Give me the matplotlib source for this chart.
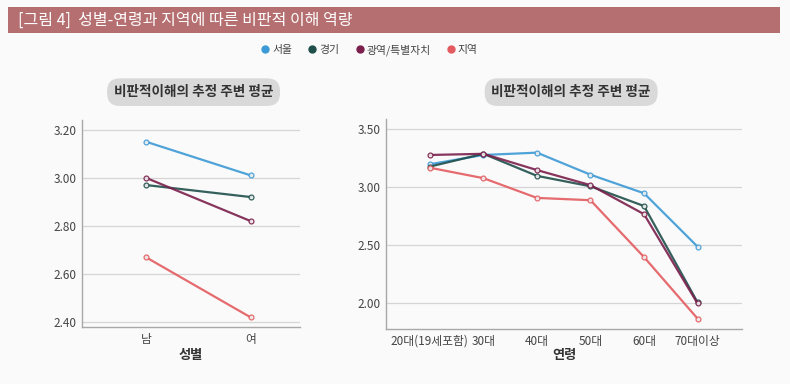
import matplotlib.pyplot as plt
from matplotlib.lines import Line2D
from matplotlib.patches import Rectangle

plt.rcParams['font.family'] = ['Noto Sans CJK KR', 'DejaVu Sans']

# 데이터
regions = ["서울", "경기", "광역/특별자치", "지역"]
colors = ["#3d9ad6", "#1f4f4b", "#7b1f4c", "#e35b60"]

sex_cats = ["남", "여"]
sex_seoul = [3.15, 3.01]
sex_gyeonggi = [2.97, 2.92]
sex_metro = [3.00, 2.82]
sex_local = [2.67, 2.42]

age_cats = ["20대(19세포함)", "30대", "40대", "50대", "60대", "70대이상"]
age_seoul = [3.20, 3.28, 3.30, 3.11, 2.95, 2.49]
age_gyeonggi = [3.18, 3.29, 3.10, 3.01, 2.84, 2.01]
age_metro = [3.28, 3.29, 3.15, 3.02, 2.77, 2.00]
age_local = [3.17, 3.08, 2.91, 2.89, 2.40, 1.87]

sex_series = [sex_seoul, sex_gyeonggi, sex_metro, sex_local]
age_series = [age_seoul, age_gyeonggi, age_metro, age_local]

bg = "#fafafa"
fig = plt.figure(figsize=(7.9, 3.84), dpi=100, facecolor=bg)

# 제목 막대
fig.patches.append(Rectangle((0.010, 0.914), 0.977, 0.068, transform=fig.transFigure,
                             facecolor="#b56f70", edgecolor="none"))
fig.text(0.023, 0.947, "[그림 4]  성별-연령과 지역에 따른 비판적 이해 역량", color="white",
         fontsize=11.5, va="center", ha="left", fontweight="medium")


def style(ax, yticks):
    ax.set_facecolor(bg)
    for s in ["top", "right"]:
        ax.spines[s].set_visible(False)
    for s in ["left", "bottom"]:
        ax.spines[s].set_color("#a8a8a8")
        ax.spines[s].set_linewidth(1.0)
    ax.set_yticks(yticks)
    ax.set_yticklabels([f"{v:.2f}" for v in yticks])
    ax.tick_params(length=0, labelsize=8.5, labelcolor="#444444", pad=4)
    ax.grid(axis="y", color="#d5d5d5", linewidth=0.9)
    ax.set_axisbelow(True)


ax1 = fig.add_axes([0.1038, 0.1484, 0.2759, 0.539])
for vals, c in zip(sex_series, colors):
    ax1.plot(range(len(sex_cats)), vals, color=c, linewidth=1.6, alpha=0.9,
             marker="o", markersize=3.5, markerfacecolor="#f0f0f0", markeredgewidth=0.9)
ax1.set_xlim(-0.61, 1.47)
ax1.set_ylim(2.38, 3.24)
ax1.set_xticks(range(len(sex_cats)))
ax1.set_xticklabels(sex_cats)
style(ax1, [2.40, 2.60, 2.80, 3.00, 3.20])
ax1.set_xlabel("성별", fontsize=9.5, fontweight="bold", color="#333333", labelpad=2)

ax2 = fig.add_axes([0.4886, 0.1432, 0.4506, 0.5469])
for vals, c in zip(age_series, colors):
    ax2.plot(range(len(age_cats)), vals, color=c, linewidth=1.6, alpha=0.9,
             marker="o", markersize=3.5, markerfacecolor="#f0f0f0", markeredgewidth=0.9)
ax2.set_xlim(-0.82, 5.83)
ax2.set_ylim(1.78, 3.59)
ax2.set_xticks(range(len(age_cats)))
ax2.set_xticklabels(age_cats)
style(ax2, [2.00, 2.50, 3.00, 3.50])
ax2.set_xlabel("연령", fontsize=9.5, fontweight="bold", color="#333333", labelpad=0)

# 부제 알약
pill = dict(boxstyle="round,pad=0.5,rounding_size=0.95", facecolor="#d9d9d9", edgecolor="none")
fig.text(0.245, 0.760, "비판적이해의 추정 주변 평균", ha="center", va="center", fontsize=9.8,
         fontweight="bold", color="#333333", bbox=pill)
fig.text(0.723, 0.760, "비판적이해의 추정 주변 평균", ha="center", va="center", fontsize=9.8,
         fontweight="bold", color="#333333", bbox=pill)

# 범례
handles = [Line2D([], [], linestyle="none", marker="o", markersize=5, color=c) for c in colors]
fig.legend(handles, regions, loc="center", bbox_to_anchor=(0.468, 0.870), ncol=4,
           frameon=False, fontsize=7.8, handlelength=0.7, handletextpad=0.3,
           columnspacing=1.5, labelcolor="#444444")

fig.savefig("out.png", dpi=100, facecolor=bg)
